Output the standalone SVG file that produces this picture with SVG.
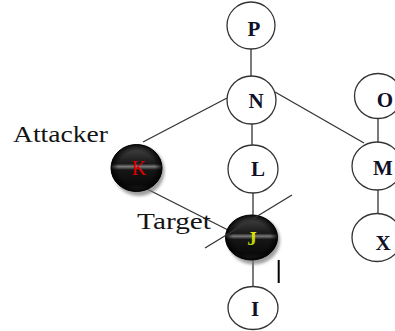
<svg xmlns="http://www.w3.org/2000/svg" width="395" height="331" viewBox="0 0 395 331">
<style>
.wn{fill:#fff;stroke:#333;stroke-width:1.3}
.lt{font-family:"Liberation Serif","Times New Roman",serif;font-weight:bold;font-size:21px;fill:#101028;text-anchor:middle}
.lbl{font-family:"Liberation Serif","Times New Roman",serif;font-size:23px;fill:#141414}
.ln{stroke:#333;stroke-width:1.3;fill:none}
.dn{fill:url(#gloss);stroke:#000;stroke-width:1}
.sh{fill:#777;opacity:0.7;filter:url(#blur)}
</style>
<defs>
<linearGradient id="gloss" x1="0" y1="0" x2="0" y2="1">
<stop offset="0" stop-color="#4a4a4a"/>
<stop offset="0.33" stop-color="#222"/>
<stop offset="0.41" stop-color="#1a1a1a"/>
<stop offset="0.47" stop-color="#7a7a7a"/>
<stop offset="0.54" stop-color="#161616"/>
<stop offset="0.85" stop-color="#0a0a0a"/>
<stop offset="1" stop-color="#2a2a2a"/>
</linearGradient>
<radialGradient id="rim" cx="0.5" cy="0.5" r="0.5">
<stop offset="0.72" stop-color="#000" stop-opacity="0"/>
<stop offset="1" stop-color="#000" stop-opacity="0.85"/>
</radialGradient>
<linearGradient id="jgrad" x1="0" y1="0" x2="0" y2="1">
<stop offset="0" stop-color="#f0f000"/>
<stop offset="1" stop-color="#a8c800"/>
</linearGradient>
<filter id="blur" x="-20%" y="-20%" width="140%" height="140%"><feGaussianBlur stdDeviation="1.5"/></filter>
</defs>
<g id="connectors">
<line class="ln" x1="251" y1="49" x2="251" y2="77"/>
<line class="ln" x1="252" y1="124" x2="252" y2="145"/>
<line class="ln" x1="253" y1="193" x2="253" y2="215"/>
<line class="ln" x1="253" y1="260" x2="253" y2="287"/>
<line class="ln" x1="227" y1="98" x2="143" y2="142"/>
<line class="ln" x1="275" y1="92" x2="364" y2="143"/>
<line class="ln" x1="378" y1="118" x2="378" y2="142"/>
<line class="ln" x1="378" y1="190" x2="378" y2="214"/>
<line class="ln" x1="145" y1="188" x2="228" y2="230"/>
</g>
<g id="node-P"><ellipse class="wn" cx="251" cy="25.5" rx="24" ry="23.5"/><text class="lt" x="254" y="36">P</text></g>
<g id="node-N"><ellipse class="wn" cx="251.5" cy="100" rx="24.5" ry="24"/><text class="lt" x="256" y="108">N</text></g>
<g id="node-O"><ellipse class="wn" cx="378" cy="96" rx="23.5" ry="22.5"/><text class="lt" x="385" y="107">O</text></g>
<g id="node-K"><ellipse class="sh" cx="139" cy="171" rx="25.5" ry="25"/><ellipse class="dn" cx="136.5" cy="168" rx="25.5" ry="23.5"/><ellipse cx="136.5" cy="168" rx="25.5" ry="23.5" fill="url(#rim)"/><text x="139" y="175" style="font-family:'Liberation Serif','Times New Roman',serif;font-size:20px;fill:#e00000;text-anchor:middle">K</text></g>
<g id="node-L"><ellipse class="wn" cx="253" cy="169" rx="25" ry="24"/><text class="lt" x="258" y="176">L</text></g>
<g id="node-M"><ellipse class="wn" cx="377" cy="166" rx="25" ry="24"/><text class="lt" x="383" y="175">M</text></g>
<g id="node-J"><ellipse class="sh" cx="254" cy="240.5" rx="26" ry="24"/><ellipse class="dn" cx="251.5" cy="237.5" rx="26" ry="22.5"/><ellipse cx="251.5" cy="237.5" rx="26" ry="22.5" fill="url(#rim)"/><text x="252" y="245" style="font-family:'Liberation Serif','Times New Roman',serif;font-weight:bold;font-size:19px;fill:url(#jgrad);text-anchor:middle">J</text></g>
<g id="node-X"><ellipse class="wn" cx="377" cy="237.5" rx="25" ry="24"/><text class="lt" x="383" y="250">X</text></g>
<g id="node-I"><ellipse class="wn" cx="253" cy="308" rx="25" ry="21.5"/><text class="lt" x="255" y="316">I</text></g>
<g id="marks">
<line class="ln" x1="205" y1="248" x2="292" y2="195"/>
<line x1="278.7" y1="260" x2="278.7" y2="283" stroke="#000" stroke-width="2"/>
</g>
<g id="labels">
<text class="lbl" x="13" y="142" textLength="95" lengthAdjust="spacingAndGlyphs">Attacker</text>
<text class="lbl" x="137" y="229" textLength="74" lengthAdjust="spacingAndGlyphs">Target</text>
</g>
</svg>
